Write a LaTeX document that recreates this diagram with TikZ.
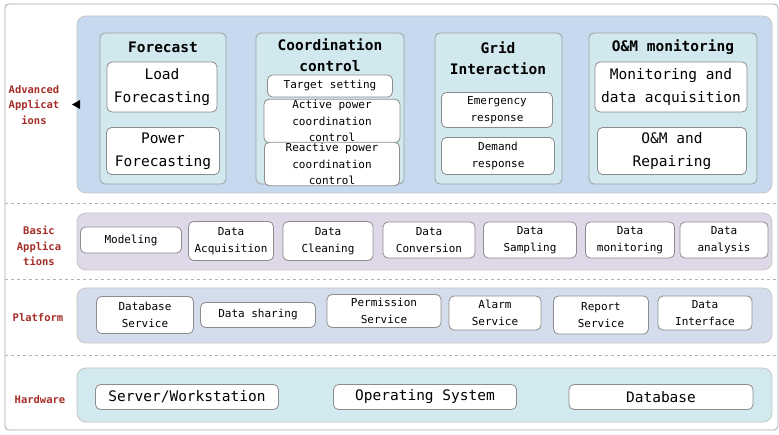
\documentclass[tikz,border=0pt]{standalone}
\usepackage{fontspec}
\newfontfamily\diagfont{DejaVu Sans Mono}
\definecolor{advblue}{RGB}{198,217,238}
\definecolor{groupcyan}{RGB}{210,232,239}
\definecolor{basicpurple}{RGB}{223,216,233}
\definecolor{platblue}{RGB}{212,221,236}
\definecolor{hardcyan}{RGB}{210,233,239}
\definecolor{layerred}{RGB}{165,45,40}
\tikzset{
  band/.style={draw=gray!45, line width=0.8pt, rounded corners=9pt},
  group/.style={draw=gray!75, fill=groupcyan, line width=0.8pt, rounded corners=5pt},
  item/.style={draw=gray!90, fill=white, rounded corners=5pt, align=center, inner sep=1pt, line width=0.8pt},
  bigtext/.style={font=\diagfont\fontsize{14.5}{23}\selectfont},
  smalltext/.style={font=\diagfont\fontsize{11}{16.5}\selectfont},
  grouptitle/.style={font=\diagfont\bfseries\fontsize{14.5}{21}\selectfont, align=center},
  layer/.style={text=layerred, align=center, font=\diagfont\bfseries\fontsize{10.5}{15.5}\selectfont},
}
\begin{document}
\begin{tikzpicture}[x=1pt,y=-1pt]
  \useasboundingbox (0,0) rectangle (779,435);
  \draw [gray!70, line width=0.8pt, rounded corners=4pt] (5,4) rectangle (778,430);

  % layers
  \draw [band, fill=advblue] (77,16) rectangle (772,193);
  \draw [band, fill=basicpurple] (77,213) rectangle (772,270);
  \draw [band, fill=platblue] (77,288) rectangle (772,343);
  \draw [band, fill=hardcyan] (77,368) rectangle (772,422);
  \draw [dashed, gray!60] (5,203) -- (777,203);
  \draw [dashed, gray!60] (5,279) -- (777,279);
  \draw [dashed, gray!60] (5,355) -- (777,355);

  \node [layer] (advlabel) at (34,105) {Advanced\\Applicat\\ions};
  \fill (72,104.5) -- (80,100) -- (80,109) -- cycle;
  \node [layer] (basiclabel) at (39,246) {Basic\\Applica\\tions};
  \node [layer] (platlabel) at (38,318) {Platform};
  \node [layer] (hardlabel) at (40,400) {Hardware};

  % advanced applications
  \draw [group] (100,33) rectangle (226,184);
  \node [grouptitle] (forecast) at (163,47) {Forecast};
  \node [item, bigtext, minimum width=110, minimum height=50] (load) at (162,87) {Load\\Forecasting};
  \node [item, bigtext, minimum width=113, minimum height=47] (power) at (163,151) {Power\\Forecasting};

  \draw [group] (256,33) rectangle (404,184);
  \node [grouptitle] (coord) at (330,55) {Coordination\\control};
  \node [item, smalltext, minimum width=125, minimum height=22] (target) at (330,86) {Target setting};
  \node [item, smalltext, minimum width=136, minimum height=38] (active) at (332,121) {Active power\\coordination\\control};
  \node [item, smalltext, minimum width=135, minimum height=40] (reactive) at (332,164) {Reactive power\\coordination\\control};

  \draw [group] (435,33) rectangle (562,184);
  \node [grouptitle] (grid) at (498,58) {Grid\\Interaction};
  \node [item, smalltext, minimum width=111, minimum height=35] (emergency) at (497,110) {Emergency\\response};
  \node [item, smalltext, minimum width=113, minimum height=37] (demand) at (498,156) {Demand\\response};

  \draw [group] (589,33) rectangle (757,184);
  \node [grouptitle] (om) at (673,47) {O\&M monitoring};
  \node [item, bigtext, minimum width=152, minimum height=50] (monitor) at (671,87) {Monitoring and\\data acquisition};
  \node [item, bigtext, minimum width=149, minimum height=47] (repair) at (672,151) {O\&M and\\Repairing};

  % basic applications
  \node [item, smalltext, minimum width=101, minimum height=26] (modeling) at (131,240) {Modeling};
  \node [item, smalltext, minimum width=85, minimum height=39] (dacq) at (231,241) {Data\\Acquisition};
  \node [item, smalltext, minimum width=90, minimum height=39] (dclean) at (328,241) {Data\\Cleaning};
  \node [item, smalltext, minimum width=92, minimum height=36] (dconv) at (429,240) {Data\\Conversion};
  \node [item, smalltext, minimum width=93, minimum height=36] (dsamp) at (530,240) {Data\\Sampling};
  \node [item, smalltext, minimum width=89, minimum height=36] (dmon) at (630,240) {Data\\monitoring};
  \node [item, smalltext, minimum width=88, minimum height=36] (dana) at (724,240) {Data\\analysis};

  % platform
  \node [item, smalltext, minimum width=97, minimum height=37] (dbserv) at (145,315) {Database\\Service};
  \node [item, smalltext, minimum width=115, minimum height=25] (dshare) at (258,315) {Data sharing};
  \node [item, smalltext, minimum width=114, minimum height=33] (perm) at (384,311) {Permission\\Service};
  \node [item, smalltext, minimum width=92, minimum height=34] (alarm) at (495,313) {Alarm\\Service};
  \node [item, smalltext, minimum width=95, minimum height=38] (report) at (601,315) {Report\\Service};
  \node [item, smalltext, minimum width=94, minimum height=34] (dinter) at (705,313) {Data\\Interface};

  % hardware
  \node [item, bigtext, minimum width=183, minimum height=25] (server) at (187,397) {Server/Workstation};
  \node [item, bigtext, minimum width=183, minimum height=25] (os) at (425,397) {Operating System};
  \node [item, bigtext, minimum width=184, minimum height=25] (db) at (661,397) {Database};
\end{tikzpicture}
\end{document}
